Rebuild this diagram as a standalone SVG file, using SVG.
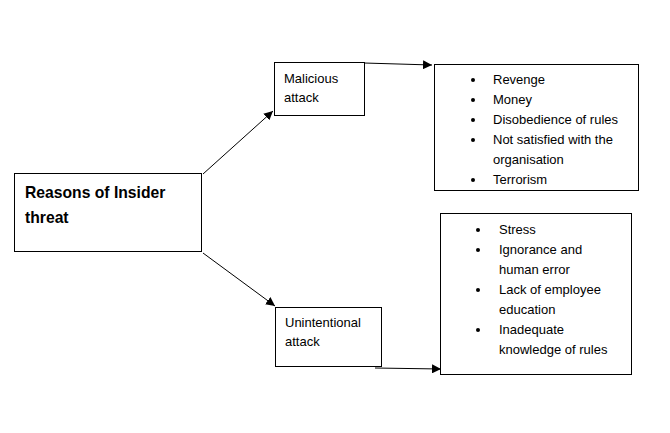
<svg xmlns="http://www.w3.org/2000/svg" width="670" height="433" viewBox="0 0 670 433">
<style>
.box{fill:#fff;stroke:#000;stroke-width:1}
.t{font-family:"Liberation Sans",Arial,sans-serif;font-size:13px;fill:#000}
.b{font-family:"Liberation Sans",Arial,sans-serif;font-size:15.7px;font-weight:bold;fill:#000}
.line{stroke:#000;stroke-width:1;fill:none}
</style>
<defs>
<marker id="ah" viewBox="0 0 10 10" refX="10" refY="5" markerWidth="9" markerHeight="9" markerUnits="userSpaceOnUse" orient="auto">
<path d="M0,0 L10,5 L0,10 z" fill="#000"/>
</marker>
</defs>
<rect width="670" height="433" fill="#fff"/>
<g id="connectors">
<line class="line" x1="203" y1="174" x2="273" y2="111" marker-end="url(#ah)"/>
<line class="line" x1="203" y1="253" x2="275" y2="306" marker-end="url(#ah)"/>
<line class="line" x1="364" y1="63" x2="432" y2="65" marker-end="url(#ah)"/>
<line class="line" x1="375" y1="368" x2="441" y2="369" marker-end="url(#ah)"/>
</g>
<g id="main">
<rect class="box" x="14.5" y="173.5" width="187" height="78"/>
<text class="b" x="25" y="198">Reasons of Insider</text>
<text class="b" x="25" y="223">threat</text>
</g>
<g id="malicious">
<rect class="box" x="274.5" y="62.5" width="90" height="53"/>
<text class="t" x="284" y="83">Malicious</text>
<text class="t" x="284" y="102">attack</text>
</g>
<g id="malicious-reasons">
<rect class="box" x="434.5" y="64.5" width="204" height="126"/>
<g class="t">
<circle cx="473" cy="80" r="2"/>
<text x="493" y="84">Revenge</text>
<circle cx="473" cy="100" r="2"/>
<text x="493" y="104">Money</text>
<circle cx="473" cy="120" r="2"/>
<text x="493" y="124">Disobedience of rules</text>
<circle cx="473" cy="140" r="2"/>
<text x="493" y="144">Not satisfied with the</text>
<text x="493" y="164">organisation</text>
<circle cx="473" cy="180" r="2"/>
<text x="493" y="184">Terrorism</text>
</g>
</g>
<g id="unintentional">
<rect class="box" x="275.5" y="307.5" width="106" height="59"/>
<text class="t" x="285" y="327">Unintentional</text>
<text class="t" x="285" y="346">attack</text>
</g>
<g id="unintentional-reasons">
<rect class="box" x="440.5" y="213.5" width="191" height="161"/>
<g class="t">
<circle cx="478" cy="230" r="2"/>
<text x="499" y="234">Stress</text>
<circle cx="478" cy="250" r="2"/>
<text x="499" y="254">Ignorance and</text>
<text x="499" y="274">human error</text>
<circle cx="478" cy="290" r="2"/>
<text x="499" y="294">Lack of employee</text>
<text x="499" y="314">education</text>
<circle cx="478" cy="330" r="2"/>
<text x="499" y="334">Inadequate</text>
<text x="499" y="354">knowledge of rules</text>
</g>
</g>
</svg>
